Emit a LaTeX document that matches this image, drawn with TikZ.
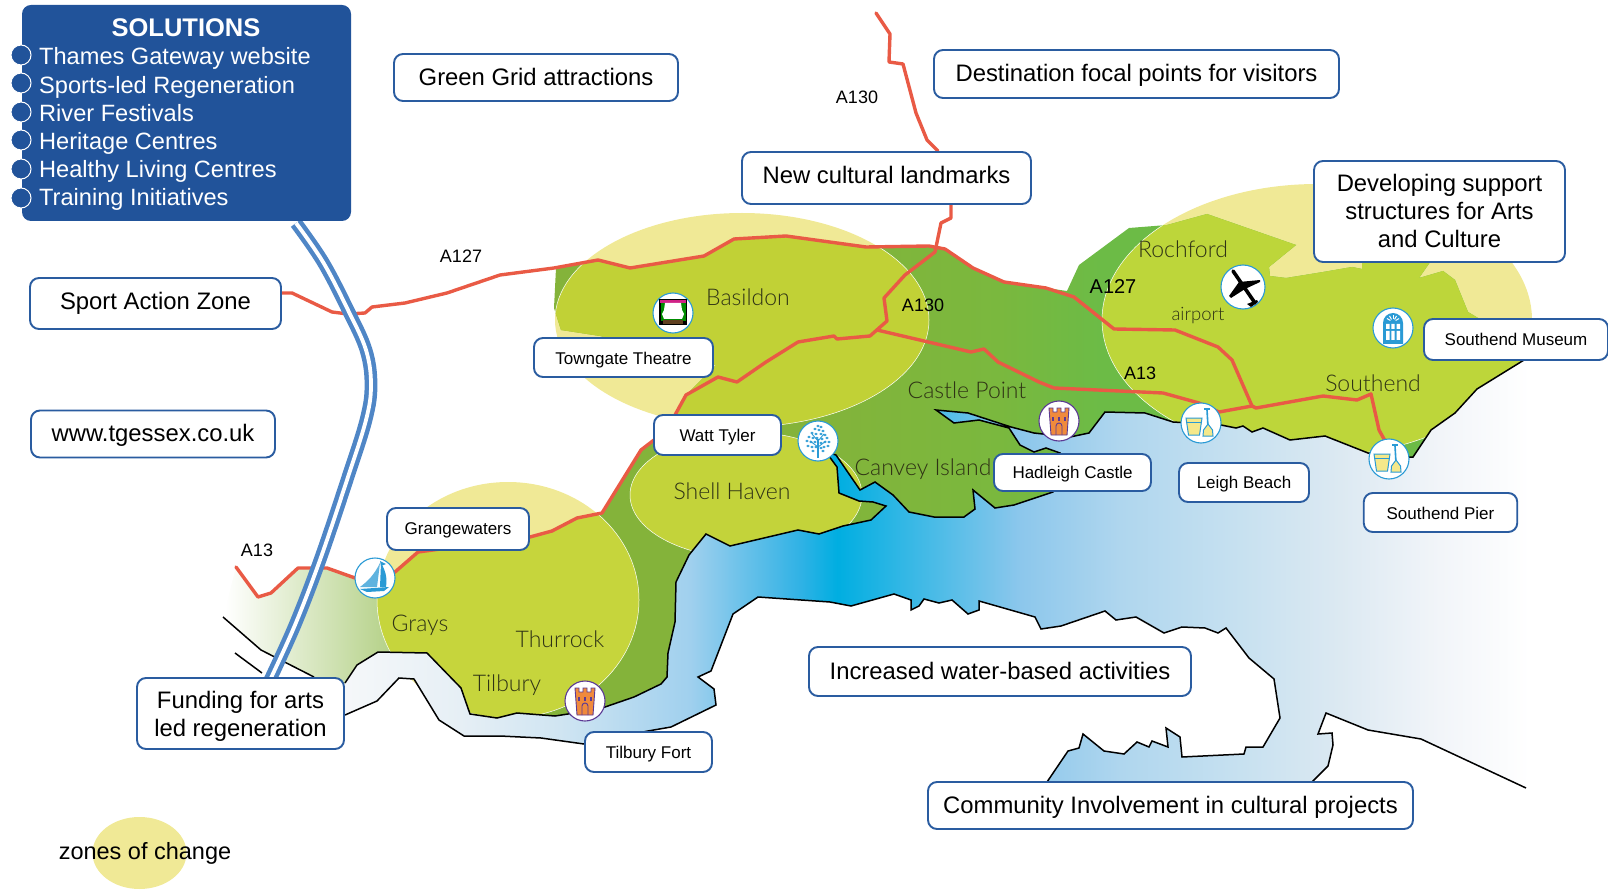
\documentclass[tikz,border=0pt]{standalone}
\usepackage{fontspec}
\setmainfont{Liberation Sans}
\newfontfamily\lightfont[UprightFont=* Light]{Lato}
\definecolor{wA}{HTML}{F6F8FA}\definecolor{wA2}{HTML}{E6EFF5}\definecolor{wB}{HTML}{D0E5F2}\definecolor{wC}{HTML}{A0D0EE}
\definecolor{wD}{HTML}{30B2E5}\definecolor{wE}{HTML}{00AEE1}\definecolor{wF}{HTML}{8CC7EC}
\definecolor{wG}{HTML}{AFD6EE}\definecolor{wH}{HTML}{C5E0F0}\definecolor{wI}{HTML}{DCE9F2}
\definecolor{wJ}{HTML}{F2F5F9}
\definecolor{lA}{HTML}{84B33A}\definecolor{lB}{HTML}{7AB83E}\definecolor{lC}{HTML}{6CBB46}
\definecolor{zone}{HTML}{F0E996}\definecolor{limeA}{HTML}{C1D136}\definecolor{limeB}{HTML}{C3D33A}
\definecolor{limeC}{HTML}{C6D53C}\definecolor{limeD}{HTML}{BDD63A}
\definecolor{road}{HTML}{E95A45}\definecolor{boxblue}{HTML}{2A5CA0}\definecolor{solblue}{HTML}{21539A}
\definecolor{strip}{HTML}{4F86C6}\definecolor{iconblue}{HTML}{2A9AD5}\definecolor{pail}{HTML}{F5E88A}
\definecolor{olive}{HTML}{2F3315}\definecolor{fort}{HTML}{F08A3C}\definecolor{fortline}{HTML}{5B3A94}
\pgfdeclarehorizontalshading{watershade}{100bp}{color(0bp)=(white);color(32bp)=(white);color(35.57bp)=(wA);color(39.3bp)=(wA2);color(42.41bp)=(wB);color(46.46bp)=(wC);color(49.88bp)=(wD);color(51.03bp)=(wE);color(56.72bp)=(wF);color(59.83bp)=(wG);color(63.25bp)=(wH);color(66.67bp)=(wI);color(69.78bp)=(wJ);color(72.58bp)=(white);color(100bp)=(white)}
\pgfdeclarehorizontalshading{landshade}{100bp}{color(0bp)=(white);color(32bp)=(white);color(40.55bp)=(lA);color(49.88bp)=(lA);color(56.1bp)=(lB);color(59.2bp)=(lC);color(100bp)=(lC)}
\def\landpath{(223,617) -- (236,567) -- (258,597) -- (271,593) -- (298,568) -- (327,568) -- (355,578) -- (395,572) -- (418,552) -- (530,537) -- (552,531) -- (577,518) -- (603,513) -- (641,450) -- (654,440) -- (675,415) -- (686,395) -- (716,365) -- (600,336) -- (561,330) -- (554,308) -- (556,268) -- (598,260) -- (630,268) -- (704,256) -- (734,239) -- (786,236) -- (866,247) -- (929,246) -- (945,249) -- (973,268) -- (1004,282) -- (1046,288) -- (1067,291) -- (1079,265) -- (1129,228) -- (1167,225) -- (1207,214) -- (1296,245) -- (1269,267) -- (1270,276) -- (1286,278) -- (1323,272) -- (1352,267) -- (1362,269) -- (1362,255) -- (1435,255) -- (1419,278) -- (1443,271) -- (1455,280) -- (1468,312) -- (1478,318) -- (1490,340) -- (1524,355) -- (1524,360) -- (1477,400) -- (1413,470) -- (1380,470) -- (1200,440) -- (1100,440) -- (1070,510) -- (1000,530) -- (900,540) -- (800,560) -- (700,570) -- (690,600) -- (680,690) -- (600,725) -- (470,725) -- (427,665) -- (378,665) -- (345,695) -- (314,677) -- (261,650) -- cycle}
\def\ncoast{(345,683) -- (357,665) -- (378,652) -- (427,653) -- (461,688) -- (470,714) -- (497,718) -- (517,713) -- (555,716) -- (568,714) -- (605,707) -- (634,697) -- (661,684) -- (667,677) -- (668,653) -- (675,622) -- (676,582) -- (689,555) -- (706,534) -- (730,546) -- (798,530) -- (819,534) -- (843,526) -- (871,520) -- (886,506) -- (873,502) -- (859,501) -- (839,493) -- (837,467) -- (826,452) -- (836,455) -- (860,490) -- (875,482) -- (893,495) -- (909,512) -- (934,517) -- (964,517) -- (975,509) -- (973,490) -- (995,508) -- (1014,505) -- (1053,492) -- (1060,453) -- (1046,448) -- (1034,452) -- (1020,445) -- (1009,428) -- (979,420) -- (954,423) -- (936,410) -- (968,413) -- (1011,427) -- (1034,433) -- (1070,437) -- (1089,433) -- (1105,412) -- (1145,413) -- (1173,422) -- (1221,425) -- (1236,428) -- (1243,426) -- (1252,432) -- (1263,428) -- (1290,440) -- (1325,436) -- (1368,453) -- (1409,457) -- (1413,457) -- (1431,430) -- (1455,413) -- (1477,389) -- (1524,360)}
\def\riverbank{(1047,782) -- (1068,751) -- (1079,748) -- (1083,734) -- (1104,751) -- (1124,754) -- (1137,742) -- (1149,747) -- (1152,741) -- (1168,747) -- (1166,728) -- (1180,737) -- (1182,757) -- (1244,754) -- (1246,747) -- (1263,747) -- (1280,718) -- (1274,679) -- (1249,658) -- (1226,628) -- (1218,633) -- (1205,628) -- (1182,627) -- (1164,633) -- (1136,617) -- (1116,620) -- (1105,611) -- (1061,626) -- (1041,629) -- (1035,617) -- (979,601) -- (979,610) -- (968,614) -- (952,600) -- (939,603) -- (924,599) -- (919,606) -- (911,610) -- (911,600) -- (894,594) -- (851,606) -- (830,602) -- (758,597) -- (733,614) -- (711,671) -- (698,677) -- (714,689) -- (716,705) -- (671,727) -- (648,731) -- (584,744) -- (541,738) -- (500,736) -- (464,736) -- (439,720) -- (414,679) -- (399,678) -- (377,701) -- (345,715)}
\def\eastbank{(1526,788) -- (1421,739) -- (1368,730) -- (1326,713) -- (1318,734) -- (1332,733) -- (1333,745) -- (1328,766) -- (1312,782)}
\newcommand\bucketicon{%
 \fill[pail,draw=iconblue,line width=1] (-15,-5) -- (1,-5) -- (-1.5,12) -- (-12.5,12) -- cycle;
 \draw[iconblue,line width=1] (-15,-1) -- (1,-1);
 \draw[iconblue,line width=1.6] (6,-13) -- (7,4);
 \draw[iconblue,line width=1.2] (3,-14) -- (9,-14);
 \fill[pail,draw=iconblue,line width=1] (7,1) -- (11.5,7) -- (12,13) -- (2,13) -- (2.5,7) -- cycle;}
\newcommand\forticon{%
 \fill[fort,draw=fortline,line width=.9] (-10,-13) -- (-6,-13) -- (-6,-9) -- (-2,-9) -- (-2,-13) -- (2,-13) -- (2,-9) -- (6,-9) -- (6,-13) -- (10,-13) -- (8,14) -- (-8,14) -- cycle;
 \draw[fortline,line width=.9] (-3,14) -- (-3,5) arc (180:360:3) -- (3,14);
 \draw[fortline,line width=1.1] (-6,-4) -- (-6,0) (0,-4) -- (0,0) (6,-4) -- (6,0);}
\newcommand\nudge[2]{\raisebox{#1pt}[\height][\depth]{#2}}
\tikzset{
 box/.style={draw=boxblue,line width=1.9,fill=white,rounded corners=9,inner sep=0,align=center},
 bigbox/.style={box,font=\fontsize{23.85}{28}\selectfont},
 smallbox/.style={box,font=\fontsize{17}{20}\selectfont},
 roadline/.style={draw=road,line width=3.4,line join=round,line cap=round},
 coastline/.style={draw=black,line width=1.5,line join=miter},
 zonearea/.style={fill=zone},
 limearea/.style={draw=white,line width=.5},
 iconbase/.style={circle,draw=iconblue,line width=1.1,fill=white,minimum size=40,inner sep=0},
 placename/.style={anchor=base,text=olive,font=\lightfont\fontsize{23}{26}\selectfont},
 roadname/.style={anchor=base,text=black,font=\fontsize{18}{20}\selectfont},
 bulletdot/.style={circle,fill=solblue,draw=white,line width=1,minimum size=20,inner sep=0},
 solution/.style={anchor=base west,inner sep=0,text=white,font=\fontsize{23.6}{26}\selectfont},
}
\begin{document}
\begin{tikzpicture}[x=1pt,y=-1pt]
\useasboundingbox (0,0) rectangle (1608,890);
% zones
\fill[zonearea] (742,320) ellipse [x radius=187,y radius=107];
\fill[zonearea] (508,600) ellipse [x radius=131,y radius=118];
\fill[zonearea] (1317,320) ellipse [x radius=215,y radius=136];
\fill[zonearea] (139.5,853) ellipse [x radius=47,y radius=36];
% land
\begin{scope}
 \clip \landpath;
 \shade[shading=landshade] (0,0) rectangle (1608,890);
 \filldraw[limearea,fill=limeA] (742,320) ellipse [x radius=187,y radius=107];
 \filldraw[limearea,fill=limeB] (746,495) ellipse [x radius=116,y radius=63];
 \filldraw[limearea,fill=limeC] (508,600) ellipse [x radius=131,y radius=118];
 \filldraw[limearea,fill=limeD] (1317,320) ellipse [x radius=215,y radius=136];
\end{scope}
% water
\begin{scope}
 \clip \ncoast -- (1545,345) -- \eastbank -- \riverbank -- (340,710) -- (340,690) -- cycle;
 \shade[shading=watershade] (0,0) rectangle (1608,890);
\end{scope}
% coast lines
\draw[coastline] \ncoast;
\draw[coastline] \riverbank;
\draw[coastline] \eastbank;
\draw[coastline] (223,617) -- (261,650) -- (314,677);
\draw[coastline] (235,653) -- (262,673);
% roads
\draw[roadline] (282,293) -- (292,293) -- (332,312) -- (348,314) -- (365,313) -- (372,307) -- (405,303) -- (447,293) -- (500,275) -- (554,268) -- (598,260) -- (630,268) -- (704,256) -- (734,239) -- (786,236) -- (866,247) -- (929,246) -- (945,249) -- (973,268) -- (1004,282) -- (1046,288) -- (1074,297) -- (1114,329) -- (1175,330) -- (1218,347) -- (1232,360) -- (1252,406);
\draw[roadline] (876,13) -- (890,34) -- (889,62) -- (903,64) -- (916,113) -- (927,140) -- (938,151);
\draw[roadline] (951,205) -- (951,218) -- (941,223) -- (935,252) -- (905,275) -- (884,298) -- (887,321) -- (870,336) -- (837,339) -- (834,336) -- (798,342) -- (766,362) -- (737,382) -- (718,377) -- (686,395) -- (675,415) -- (654,440) -- (641,450) -- (602,513) -- (577,518) -- (552,531) -- (530,537) -- (418,552) -- (395,572) -- (375,580) -- (355,578) -- (327,568) -- (298,568) -- (271,593) -- (258,597) -- (236,567);
\draw[roadline] (877,330) -- (971,352) -- (984,349) -- (998,362) -- (1039,382) -- (1054,388) -- (1163,393) -- (1199,403) -- (1219,412) -- (1252,406) -- (1256,408) -- (1323,396) -- (1357,400) -- (1371,394) -- (1379,430) -- (1389,448);
% double strip
\draw[strip,line width=4.5,double=white,double distance=3.8] plot[smooth,tension=.6] coordinates {(296,223) (323,262) (348,310) (366,350) (371,385) (366,420) (347,480) (320,560) (295,625) (270,680)};
% solutions panel
\node[draw=none,fill=solblue,rounded corners=9,minimum width=329,minimum height=216,inner sep=0] (panel) at (186.5,113) {};
\node[anchor=center,text=white,font=\bfseries\fontsize{25.5}{28}\selectfont] (soltitle) at (186,28) {SOLUTIONS};
\node[bulletdot] (b1) at (21,55) {};
\node[bulletdot] (b2) at (21,83) {};
\node[bulletdot] (b3) at (21,112) {};
\node[bulletdot] (b4) at (21,140) {};
\node[bulletdot] (b5) at (21,169) {};
\node[bulletdot] (b6) at (21,198) {};
\node[solution] (s1) at (39,64.5) {Thames Gateway website};
\node[solution] (s2) at (39,93.5) {Sports-led Regeneration};
\node[solution] (s3) at (39,121.5) {River Festivals};
\node[solution] (s4) at (39,149.5) {Heritage Centres};
\node[solution] (s5) at (39,177.5) {Healthy Living Centres};
\node[solution] (s6) at (39,205.5) {Training Initiatives};
% big boxes
\node[bigbox,minimum width=251,minimum height=51] (sport) at (155.5,303.5) {Sport Action Zone};
\node[bigbox,minimum width=244,minimum height=47] (www) at (153,434) {\nudge{-1}{www.tgessex.co.uk}};
\node[bigbox,minimum width=284,minimum height=47] (green) at (536,77.5) {\nudge{1}{Green Grid attractions}};
\node[bigbox,minimum width=405,minimum height=48] (dest) at (1136.5,74) {\nudge{-1}{Destination focal points for visitors}};
\node[bigbox,minimum width=289,minimum height=52] (landm) at (886.5,178) {\nudge{3}{New cultural landmarks}};
\node[bigbox,minimum width=251,minimum height=101] (devel) at (1439.5,211.5) {\nudge{-2.5}{\begin{tabular}{@{}c@{}}Developing support\\structures for Arts\\and Culture\end{tabular}}};
\node[bigbox,minimum width=207,minimum height=71] (fund) at (240.5,713.5) {\nudge{-3}{\begin{tabular}{@{}c@{}}Funding for arts\\led regeneration\end{tabular}}};
\node[bigbox,minimum width=382,minimum height=49] (water) at (1000,671.5) {\nudge{1}{Increased water-based activities}};
\node[bigbox,minimum width=485,minimum height=47] (comm) at (1170.5,805.5) {\nudge{-2}{Community Involvement in cultural projects}};
% small boxes
\node[smallbox,minimum width=184,minimum height=41] (museum) at (1516,339.5) {Southend Museum};
\node[smallbox,minimum width=179,minimum height=39] (towngate) at (623.5,357.5) {\nudge{-3}{Towngate Theatre}};
\node[smallbox,minimum width=127,minimum height=40] (watt) at (717.5,435) {\nudge{-2}{Watt Tyler}};
\node[smallbox,minimum width=142,minimum height=42] (grange) at (458,529) {\nudge{-1}{Grangewaters}};
\node[smallbox,minimum width=157,minimum height=37] (hadleigh) at (1072.5,472.5) {\nudge{-2}{Hadleigh Castle}};
\node[smallbox,minimum width=130,minimum height=39] (leigh) at (1244,482.5) {\nudge{-2}{Leigh Beach}};
\node[smallbox,minimum width=153.5,minimum height=39] (pier) at (1440.5,512.5) {\nudge{-1}{Southend Pier}};
\node[smallbox,minimum width=127,minimum height=40] (tilfort) at (648.5,752) {\nudge{-2}{Tilbury Fort}};
% icons
\node[iconbase] (icotheatre) at (673,313) {};
\begin{scope}[shift={(673,313)}]
 \fill[black] (-14,-14) rectangle (14,12);
 \fill[magenta!85!black] (-13,-13) rectangle (13,-10);
 \fill[green!55!black] (-12.5,-10) rectangle (12.5,8);
 \fill[white] (-8,-10) -- (8,-10) -- (9,-3) -- (11,1) -- (9,6) -- (-9,6) -- (-11,1) -- (-9,-3) -- cycle;
 \fill[brown!50!black] (-10,7) rectangle (10,11);
\end{scope}
\node[iconbase] (icotree) at (818,441) {};
\begin{scope}[shift={(818,441)}]
 \draw[iconblue,line width=1.6] (0,17) -- (0,-2);
 \draw[iconblue,line width=.9] (0,6) -- (-8,0) (0,6) -- (8,0) (0,0) -- (-6,-7) (0,0) -- (6,-7);
 \foreach \a/\b in {0/-15,3/-14,-3/-12,1/-11,5/-10,-6/-8,-2/-7,3/-7,7/-6,-9/-4,-5/-3,-1/-3,4/-2,9/-3,-11/0,-7/1,-3/1,3/2,7/1,11/1,-10/5,-6/6,-2/6,3/7,6/6,10/5,-5/10,5/10}
  \fill[iconblue] (\a,\b) ellipse [x radius=1.7,y radius=1.3];
\end{scope}
\node[iconbase,minimum size=44] (icoplane) at (1243,287) {};
\begin{scope}[shift={(1243,287)}]
 \draw[black,line width=3.6,line cap=round] (-10,-16) -- (12,16);
 \fill[black] (-14,9) -- (-4,-5) -- (17,-7) -- (17,-5) -- (2,2) -- (-12,11) -- cycle;
 \fill[black] (4,17) -- (14,13) -- (15,15) -- (8,20) -- cycle;
\end{scope}
\node[iconbase] (icomuseum) at (1393,328) {};
\begin{scope}[shift={(1393,328)}]
 \fill[iconblue] (-10,16) -- (-10,-5) arc (180:360:10) -- (10,16) -- cycle;
 \fill[white] (-7,-4) rectangle (-3.5,1) (-1.7,-4) rectangle (1.7,1) (3.5,-4) rectangle (7,1) (-7,3) rectangle (-3.5,12) (-1.7,3) rectangle (1.7,12) (3.5,3) rectangle (7,12);
 \foreach \t in {210,240,270,300,330} \draw[white,line width=1] (0,-6) ++(\t:3) -- ++(\t:4);
\end{scope}
\node[iconbase] (icoleigh) at (1201,423) {};
\begin{scope}[shift={(1201,423)}] \bucketicon \end{scope}
\node[iconbase] (icopier) at (1389,459) {};
\begin{scope}[shift={(1389,459)}] \bucketicon \end{scope}
\node[iconbase,draw=fortline] (icohadleigh) at (1059,421) {};
\begin{scope}[shift={(1059,421)}] \forticon \end{scope}
\node[iconbase,draw=fortline] (icotilbury) at (585,701) {};
\begin{scope}[shift={(585,701)}] \forticon \end{scope}
\node[iconbase] (icoboat) at (375,578) {};
\begin{scope}[shift={(375,578)}]
 \fill[iconblue!75!white] (5,-15) .. controls (-1,-3) and (-7,3) .. (-15,9) -- (2,9) -- cycle;
 \fill[iconblue] (6,-15) .. controls (12,-5) and (12,3) .. (11,9) -- (5,9) -- cycle;
 \fill[iconblue] (-15,11) -- (14,9) -- (9,13) -- (-8,14) -- cycle;
 \fill[iconblue] (5,-17) -- (11,-14) -- (6,-12) -- cycle;
\end{scope}
% place names
\node[placename] (nbas) at (748,306) {Basildon};
\node[placename] (ncas) at (967,398.5) {Castle Point};
\node[placename] (ncan) at (923,475) {Canvey Island};
\node[placename] (nshe) at (732,499) {Shell Haven};
\node[placename] (nroc) at (1183,258) {Rochford};
\node[placename,font=\lightfont\fontsize{18.5}{22}\selectfont] (nair) at (1198,320) {airport};
\node[placename] (nsou) at (1373,391) {Southend};
\node[placename] (ngra) at (420,631) {Grays};
\node[placename] (nthu) at (560,647) {Thurrock};
\node[placename] (ntil) at (507,691) {Tilbury};
% road names
\node[roadname] (ra) at (461,263) {A127};
\node[roadname] (rb) at (857,104) {A130};
\node[roadname] (rc) at (923,312) {A130};
\node[roadname,font=\fontsize{20}{22}\selectfont] (rd) at (1113,294) {A127};
\node[roadname] (re) at (1140,379) {A13};
\node[roadname] (rf) at (257,556) {A13};
\node[anchor=base,font=\fontsize{23.5}{26}\selectfont] (zlabel) at (145,859) {zones of change};
\end{tikzpicture}
\end{document}
